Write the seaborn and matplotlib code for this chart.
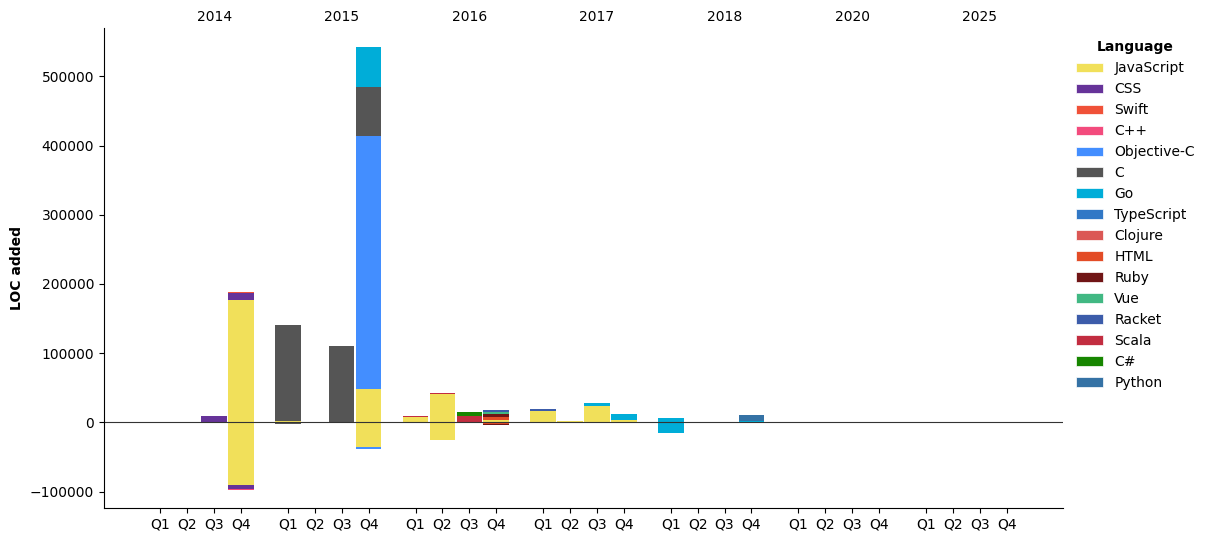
import matplotlib
matplotlib.use("Agg")
import matplotlib.pyplot as plt
from matplotlib.patches import Patch
import numpy as np
import pandas as pd
import seaborn as sns

# years on the top axis, quarters on the bottom one
years = ["2014", "2015", "2016", "2017", "2018", "2020", "2025"]
quarters = ["Q1", "Q2", "Q3", "Q4"]

languages = ["JavaScript", "CSS", "Swift", "C++", "Objective-C", "C", "Go", "TypeScript",
             "Clojure", "HTML", "Ruby", "Vue", "Racket", "Scala", "C#", "Python"]
colors = ["#f1e05a", "#663399", "#F05138", "#f34b7d", "#438eff", "#555555", "#00ADD8", "#3178c6",
          "#db5855", "#e34c26", "#701516", "#41b883", "#3c5caa", "#c22d40", "#178600", "#3572A5"]

# LOC added (+) / removed (-) per language, keyed by "year quarter"
javascript = [("2014 Q4", 176700), ("2014 Q4", -90600), ("2015 Q1", 2000), ("2015 Q4", 48500),
              ("2015 Q4", -35700), ("2016 Q1", 7700), ("2016 Q2", 41000), ("2016 Q2", -25500),
              ("2016 Q4", 3500), ("2017 Q1", 16400), ("2017 Q2", 1800), ("2017 Q3", 23600),
              ("2017 Q4", 3400)]
css = [("2014 Q3", 9000), ("2014 Q4", 10000), ("2014 Q4", -5800)]
swift = [("2014 Q4", 1500)]
cpp = [("2014 Q4", -1500)]
objective_c = [("2015 Q4", 365000), ("2015 Q4", -2800)]
c = [("2015 Q1", 138600), ("2015 Q1", -2500), ("2015 Q3", 110300), ("2015 Q4", 70800)]
go = [("2015 Q4", 57800), ("2017 Q3", 4300), ("2017 Q3", -600), ("2017 Q4", 8700),
      ("2018 Q1", 6300), ("2018 Q1", -15400), ("2018 Q4", 2000)]
typescript = [("2017 Q1", -700)]
clojure = [("2016 Q4", -700)]
html = [("2016 Q4", 4300), ("2016 Q4", -1200)]
ruby = [("2016 Q4", 4500), ("2016 Q4", -1800)]
vue = [("2016 Q4", 3000)]
racket = [("2016 Q4", 3200), ("2017 Q1", 2900)]
scala = [("2016 Q1", 1500), ("2016 Q2", 1400), ("2016 Q3", 9200)]
csharp = [("2016 Q3", 5800)]
python = [("2018 Q4", 8500)]

series = [javascript, css, swift, cpp, objective_c, c, go, typescript,
          clojure, html, ruby, vue, racket, scala, csharp, python]

rows = []
for lang, pts in zip(languages, series):
    for period, v in pts:
        rows.append({"language": lang, "period": period, "loc": v})
df = pd.DataFrame(rows)

periods = [f"{y} {q}" for y in years for q in quarters]
pos = {}
for i, y in enumerate(years):
    for j, q in enumerate(quarters):
        pos[f"{y} {q}"] = i * 4.75 + j
xs = np.array([pos[p] for p in periods])

fig = plt.figure(figsize=(12.11, 5.42), dpi=100)
ax = fig.add_axes([104 / 1211, 1 - 508 / 542, (1063 - 104) / 1211, (508 - 28) / 542])

up = np.zeros(len(periods))
down = np.zeros(len(periods))
for lang, col in zip(languages, colors):
    sub = df[df.language == lang]
    p = np.array([sub[(sub.period == per) & (sub["loc"] > 0)]["loc"].sum() for per in periods])
    n = np.array([sub[(sub.period == per) & (sub["loc"] < 0)]["loc"].sum() for per in periods])
    if p.any():
        ax.bar(xs, p, bottom=up, width=0.95, color=col, linewidth=0)
    if n.any():
        ax.bar(xs, n, bottom=down, width=0.95, color=col, linewidth=0)
    up += p
    down += n

ax.axhline(0, color="#333333", linewidth=0.8)
ax.set_ylim(-123800, 569800)
ax.set_xticks(xs)
ax.set_xticklabels([p.split()[1] for p in periods])
ax.set_ylabel("LOC added", fontweight="bold")
sns.despine(ax=ax)

# year label sits over the Q3 tick
year_ticks = [pos[f"{y} Q3"] for y in years]
top = ax.secondary_xaxis("top")
top.set_xticks(year_ticks, labels=years)
top.tick_params(length=0, pad=3)
top.spines["top"].set_visible(False)

handles = [Patch(facecolor=col, edgecolor="white", linewidth=0.5) for col in colors]
ax.legend(handles, languages, title="Language", loc="upper left", bbox_to_anchor=(1.0, 1.0),
          frameon=False, title_fontproperties={"weight": "bold"})

fig.savefig("out.png", dpi=100)
